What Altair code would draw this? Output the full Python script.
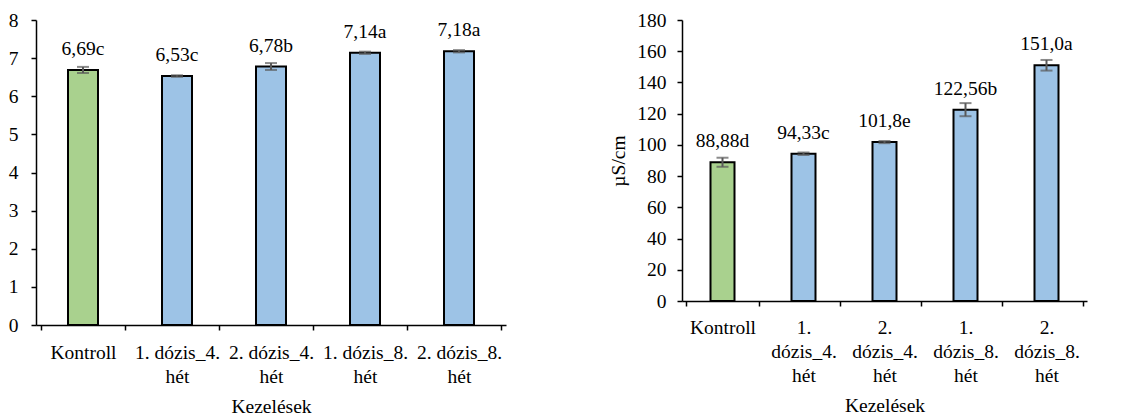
import altair as alt
import pandas as pd

categories = ["Kontroll", "1. dózis_4. hét", "2. dózis_4. hét", "1. dózis_8. hét", "2. dózis_8. hét"]
bar_colors = ["#A9D18E", "#9DC3E6", "#9DC3E6", "#9DC3E6", "#9DC3E6"]

ph_values = [6.69, 6.53, 6.78, 7.14, 7.18]
ph_errors = [0.08, 0.02, 0.09, 0.03, 0.03]
ph_labels = ["6,69c", "6,53c", "6,78b", "7,14a", "7,18a"]

ec_values = [88.88, 94.33, 101.8, 122.56, 151.0]
ec_errors = [2.9, 0.8, 0.7, 4.2, 3.4]
ec_labels = ["88,88d", "94,33c", "101,8e", "122,56b", "151,0a"]

FONT = "Liberation Serif"
FS = 19.5
ERR = "#595959"


def panel(values, errors, labels, ymax, ystep, width, height, bar_size, label_expr,
          ytitle, ylabel_pad, xlabel_pad):
    df = pd.DataFrame({
        "cat": categories,
        "val": values,
        "lo": [v - e for v, e in zip(values, errors)],
        "hi": [v + e for v, e in zip(values, errors)],
        "lab": labels,
    })
    xaxis = alt.Axis(labelExpr=label_expr, labelAngle=0, tickBand="extent",
                     labelPadding=xlabel_pad, labelLineHeight=24,
                     titlePadding=12, labelLimit=300, labelOverlap=False)
    yaxis = alt.Axis(values=list(range(0, ymax + 1, ystep)), labelPadding=ylabel_pad,
                     titlePadding=8, labelOverlap=False, tickCount=len(range(0, ymax + 1, ystep)))
    yscale = alt.Scale(domain=[0, ymax], nice=False)

    def xe():
        return alt.X("cat:N", sort=categories, title="Kezelések", axis=xaxis)

    def ye(field):
        if ytitle:
            return alt.Y(field, title=ytitle, scale=yscale, axis=yaxis)
        return alt.Y(field, title=None, scale=yscale, axis=yaxis)

    base = alt.Chart(df)
    bars = base.mark_bar(size=bar_size, stroke="black", strokeWidth=2).encode(
        x=xe(), y=ye("val:Q"),
        color=alt.Color("cat:N", scale=alt.Scale(domain=categories, range=bar_colors), legend=None),
    )
    rule = base.mark_rule(color=ERR, strokeWidth=2).encode(x=xe(), y=ye("lo:Q"), y2="hi:Q")
    cap_lo = base.mark_tick(color=ERR, thickness=2, size=12).encode(x=xe(), y=ye("lo:Q"))
    cap_hi = base.mark_tick(color=ERR, thickness=2, size=12).encode(x=xe(), y=ye("hi:Q"))
    text = base.mark_text(baseline="alphabetic", dy=-15, font=FONT, fontSize=FS, color="black").encode(
        x=xe(), y=ye("val:Q"), text="lab:N")
    return alt.layer(bars, rule, cap_lo, cap_hi, text).properties(width=width, height=height)


left = panel(ph_values, ph_errors, ph_labels, 8, 1, 470, 305, 30,
             "split(replace(datum.label, '. h', '.|h'), '|')", None, 13, 13)
right = panel(ec_values, ec_errors, ec_labels, 180, 20, 405, 281, 24,
              "split(datum.label, ' ')", "µS/cm", 11, 12)

chart = alt.hconcat(left, right, spacing=102).configure_view(stroke=None).configure_axis(
    grid=False,
    domainColor="black", domainWidth=1.5,
    tickColor="black", tickWidth=1.5, tickSize=5,
    labelColor="black", labelFont=FONT, labelFontSize=FS,
    titleColor="black", titleFont=FONT, titleFontSize=FS, titleFontWeight="normal",
).properties(padding={"left": 0, "top": 2, "right": 2, "bottom": 2})

chart.save("out.html", embed_options={"renderer": "svg", "actions": False})
